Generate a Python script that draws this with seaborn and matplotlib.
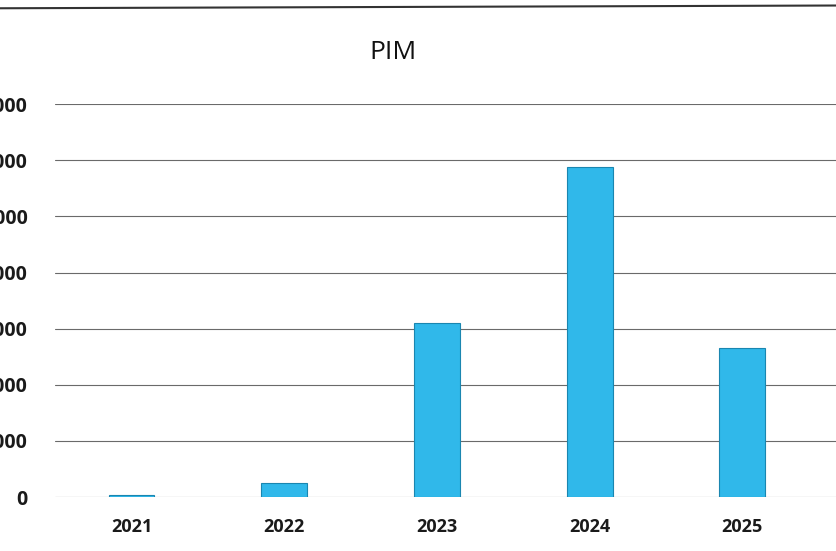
import pandas as pd
import matplotlib.pyplot as plt
import seaborn as sns

# data
years = ["2021", "2022", "2023", "2024", "2025"]
pim = [40, 250, 3100, 5880, 2650]
y_ticks = [0, 1000, 2000, 3000, 4000, 5000, 6000, 7000]

sns.set_style("white")
plt.rcParams["font.family"] = ["Open Sans", "DejaVu Sans"]

df = pd.DataFrame({"year": years, "pim": pim})

fig = plt.figure(figsize=(8.37, 5.51), dpi=100)
ax = fig.add_axes([0.066, 0.098, 0.934, 0.713])

sns.barplot(data=df, x="year", y="pim", color="#30b8ea", width=0.3,
            edgecolor="#1a86b0", linewidth=0.8, saturation=1, ax=ax)

ax.set_ylim(0, 7000)
ax.set_xlim(-0.5, 4.62)
ax.set_yticks(y_ticks)
ax.yaxis.grid(True, color="#6a6a6a", linewidth=0.8)
ax.set_axisbelow(True)
for s in ax.spines.values():
    s.set_visible(False)

# the y labels are cut at the left edge in the photographed original
ax.tick_params(axis="y", length=0, pad=20, labelsize=14)
ax.tick_params(axis="x", length=0, pad=15, labelsize=13)
for lbl in ax.get_yticklabels() + ax.get_xticklabels():
    lbl.set_fontweight("bold")
    lbl.set_color("#1a1a1a")

ax.set_xlabel("")
ax.set_ylabel("")
fig.text(0.47, 0.905, "PIM", ha="center", va="center", fontsize=19, color="#111111")

# top border of the printed chart
fig.add_artist(plt.Line2D([0, 1], [0.985, 0.99], color="#333333", linewidth=1.5))

fig.savefig("out.png", dpi=100)
